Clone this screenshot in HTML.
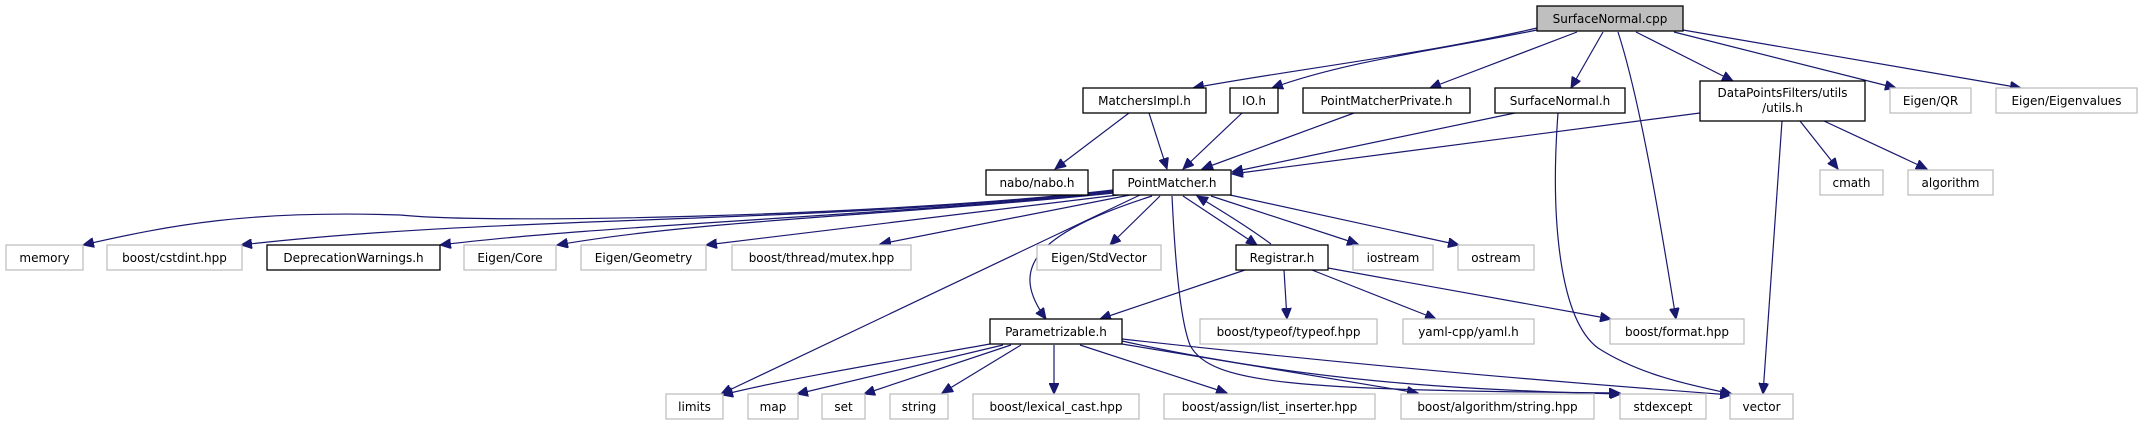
<!DOCTYPE html>
<html><head><meta charset="utf-8"><style>
html,body{margin:0;padding:0;background:#fff;}
svg{display:block;}
text{font-family:"DejaVu Sans","Liberation Sans",sans-serif;font-size:12px;fill:#000;text-anchor:middle;}
.b{fill:#fff;stroke:#000;stroke-width:1.3;}
.g{fill:#fff;stroke:#bfbfbf;stroke-width:1.3;}
.e{fill:none;stroke:#191970;stroke-width:1.2;marker-end:url(#a);}
</style></head><body>
<svg width="2143" height="425" viewBox="0 0 2143 425" xmlns="http://www.w3.org/2000/svg">
<defs><marker id="a" markerUnits="userSpaceOnUse" markerWidth="12" markerHeight="10" refX="11" refY="5" orient="auto"><path d="M0,0 L11,5 L0,10 Z" fill="#191970" stroke="#191970"/></marker></defs>
<!-- edges -->
<path class="e" d="M1537,28 C1420,55 1290,70 1193,88"/>
<path class="e" d="M1537,30 C1440,50 1350,60 1272,88"/>
<path class="e" d="M1577,32 L1430,88"/>
<path class="e" d="M1603,32 L1571,88"/>
<path class="e" d="M1618,32 C1640,100 1660,220 1676,319"/>
<path class="e" d="M1636,32 L1733,81"/>
<path class="e" d="M1674,32 L1896,88"/>
<path class="e" d="M1683,30 L2021,88"/>
<path class="e" d="M1129,113 L1055,169"/>
<path class="e" d="M1149,113 L1167,169"/>
<path class="e" d="M1242,113 L1183,169"/>
<path class="e" d="M1354,113 L1202,169"/>
<path class="e" d="M1515,113 L1232,172"/>
<path class="e" d="M1700,113 L1232,174"/>
<path class="e" d="M1558,113 C1550,220 1560,320 1598,348 C1640,375 1690,385 1732,394"/>
<path class="e" d="M1782,121 L1763,394"/>
<path class="e" d="M1800,121 L1838,169"/>
<path class="e" d="M1824,121 L1927,169"/>
<path class="e" d="M1113,190 C900,215 500,225 400,215 C250,210 170,225 83,245"/>
<path class="e" d="M1113,191 C800,225 500,215 241,245"/>
<path class="e" d="M1113,192 C900,215 600,225 440,245"/>
<path class="e" d="M1114,193 C900,215 700,220 557,245"/>
<path class="e" d="M1118,195 L706,245"/>
<path class="e" d="M1130,195 L880,244"/>
<path class="e" d="M1140,195 L721,394"/>
<path class="e" d="M1152,196 C1030,235 1010,270 1046,319"/>
<path class="e" d="M1160,196 L1110,245"/>
<path class="e" d="M1183,196 L1257,245"/>
<path class="e" d="M1271,244 C1245,225 1220,210 1197,196"/>
<path class="e" d="M1211,196 L1358,244"/>
<path class="e" d="M1230,195 L1459,245"/>
<path class="e" d="M1172,196 C1175,260 1180,320 1190,345 C1210,385 1300,390 1620,393"/>
<path class="e" d="M1245,270 L1100,319"/>
<path class="e" d="M1284,270 L1287,319"/>
<path class="e" d="M1312,270 L1436,319"/>
<path class="e" d="M1328,268 L1611,319"/>
<path class="e" d="M990,344 C900,360 780,380 722,395"/>
<path class="e" d="M1003,345 L797,394"/>
<path class="e" d="M1011,345 L864,394"/>
<path class="e" d="M1021,345 L942,393"/>
<path class="e" d="M1054,345 L1054,394"/>
<path class="e" d="M1080,345 L1227,393"/>
<path class="e" d="M1122,344 L1418,393"/>
<path class="e" d="M1122,341 C1300,380 1450,390 1621,394"/>
<path class="e" d="M1122,339 C1400,370 1600,385 1731,395"/>
<!-- nodes -->
<rect x="1537" y="6" width="146" height="25" fill="#bfbfbf" stroke="#000" stroke-width="1.3"/><text x="1610" y="23">SurfaceNormal.cpp</text>
<rect class="b" x="1083" y="88" width="123" height="25"/><text x="1144.5" y="105">MatchersImpl.h</text>
<rect class="b" x="1230" y="88" width="48" height="25"/><text x="1254" y="105">IO.h</text>
<rect class="b" x="1303" y="88" width="167" height="25"/><text x="1386.5" y="105">PointMatcherPrivate.h</text>
<rect class="b" x="1495" y="88" width="130" height="25"/><text x="1560" y="105">SurfaceNormal.h</text>
<rect class="b" x="1700" y="81" width="165" height="40"/><text x="1782.5" y="97">DataPointsFilters/utils</text><text x="1782.5" y="112">/utils.h</text>
<rect class="g" x="1890" y="88" width="81" height="25"/><text x="1930.5" y="105">Eigen/QR</text>
<rect class="g" x="1996" y="88" width="141" height="25"/><text x="2066.5" y="105">Eigen/Eigenvalues</text>
<rect class="b" x="986" y="170" width="102" height="25"/><text x="1037" y="187">nabo/nabo.h</text>
<rect class="b" x="1113" y="170" width="118" height="25"/><text x="1172" y="187">PointMatcher.h</text>
<rect class="g" x="1820" y="170" width="63" height="25"/><text x="1851.5" y="187">cmath</text>
<rect class="g" x="1908" y="170" width="85" height="25"/><text x="1950.5" y="187">algorithm</text>
<rect class="g" x="6" y="245" width="77" height="25"/><text x="44.5" y="262">memory</text>
<rect class="g" x="107" y="245" width="135" height="25"/><text x="174.5" y="262">boost/cstdint.hpp</text>
<rect class="b" x="267" y="245" width="173" height="25"/><text x="353.5" y="262">DeprecationWarnings.h</text>
<rect class="g" x="464" y="245" width="92" height="25"/><text x="510" y="262">Eigen/Core</text>
<rect class="g" x="581" y="245" width="125" height="25"/><text x="643.5" y="262">Eigen/Geometry</text>
<rect class="g" x="732" y="245" width="179" height="25"/><text x="821.5" y="262">boost/thread/mutex.hpp</text>
<rect class="g" x="1037" y="245" width="124" height="25"/><text x="1099" y="262">Eigen/StdVector</text>
<rect class="b" x="1236" y="245" width="92" height="25"/><text x="1282" y="262">Registrar.h</text>
<rect class="g" x="1353" y="245" width="80" height="25"/><text x="1393" y="262">iostream</text>
<rect class="g" x="1458" y="245" width="76" height="25"/><text x="1496" y="262">ostream</text>
<rect class="b" x="990" y="319" width="132" height="25"/><text x="1056" y="336">Parametrizable.h</text>
<rect class="g" x="1200" y="319" width="177" height="25"/><text x="1288.5" y="336">boost/typeof/typeof.hpp</text>
<rect class="g" x="1403" y="319" width="131" height="25"/><text x="1468.5" y="336">yaml-cpp/yaml.h</text>
<rect class="g" x="1610" y="319" width="134" height="25"/><text x="1677" y="336">boost/format.hpp</text>
<rect class="g" x="666" y="394" width="57" height="25"/><text x="694.5" y="411">limits</text>
<rect class="g" x="748" y="394" width="50" height="25"/><text x="773" y="411">map</text>
<rect class="g" x="822" y="394" width="43" height="25"/><text x="843.5" y="411">set</text>
<rect class="g" x="890" y="394" width="58" height="25"/><text x="919" y="411">string</text>
<rect class="g" x="973" y="394" width="166" height="25"/><text x="1056" y="411">boost/lexical_cast.hpp</text>
<rect class="g" x="1164" y="394" width="211" height="25"/><text x="1269.5" y="411">boost/assign/list_inserter.hpp</text>
<rect class="g" x="1401" y="394" width="193" height="25"/><text x="1497.5" y="411">boost/algorithm/string.hpp</text>
<rect class="g" x="1620" y="394" width="86" height="25"/><text x="1663" y="411">stdexcept</text>
<rect class="g" x="1730" y="394" width="63" height="25"/><text x="1761.5" y="411">vector</text>
</svg>
</body></html>
